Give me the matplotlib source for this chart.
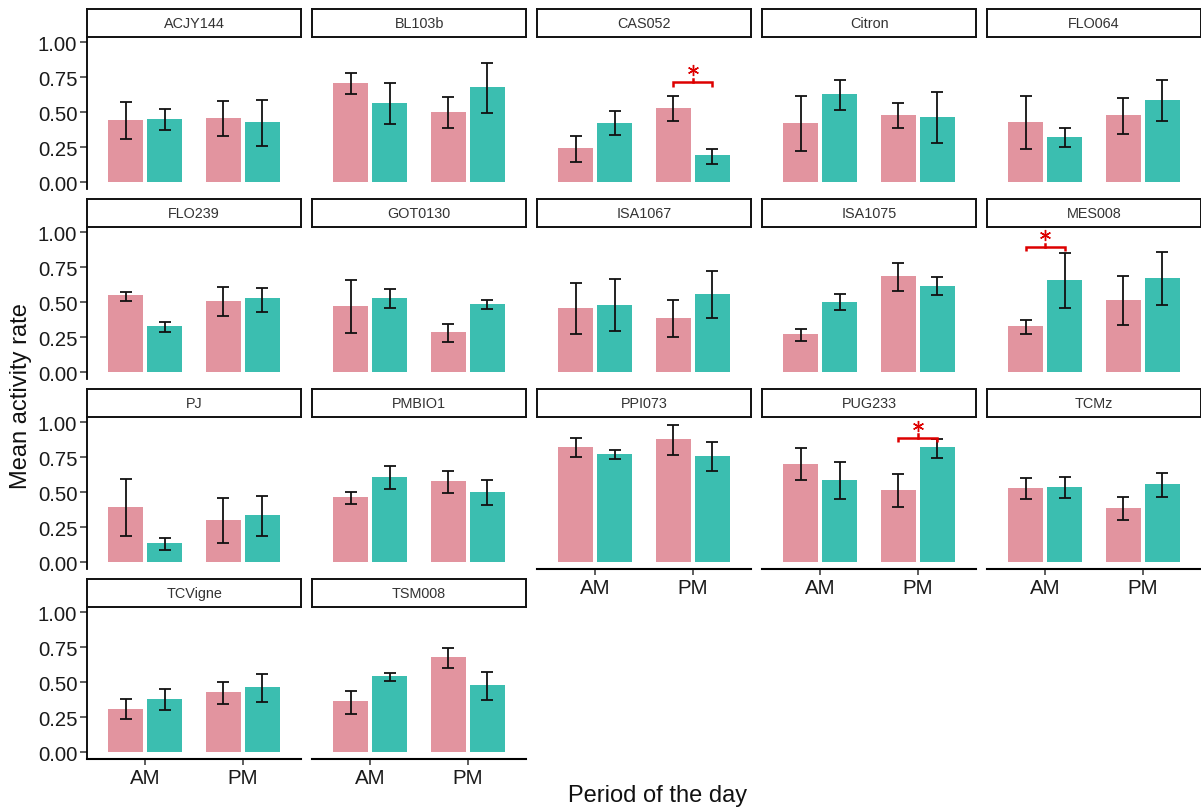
import matplotlib
matplotlib.use("Agg")
import matplotlib.pyplot as plt
import numpy as np

plt.rcParams['font.family'] = ['Liberation Sans', 'DejaVu Sans']

# ---------------- data ----------------
strains = ["ACJY144", "BL103b", "CAS052", "Citron", "FLO064",
           "FLO239", "GOT0130", "ISA1067", "ISA1075", "MES008",
           "PJ", "PMBIO1", "PPI073", "PUG233", "TCMz",
           "TCVigne", "TSM008"]
periods = ["AM", "PM"]

# (AM, PM) per strain
pink_mean = [(0.448, 0.460), (0.710, 0.502), (0.243, 0.533), (0.426, 0.483), (0.433, 0.481),
             (0.550, 0.512), (0.476, 0.286), (0.462, 0.388), (0.271, 0.688), (0.331, 0.514),
             (0.398, 0.302), (0.464, 0.583), (0.826, 0.879), (0.705, 0.517), (0.533, 0.390),
             (0.312, 0.429), (0.364, 0.679)]
pink_lo = [(0.310, 0.333), (0.631, 0.386), (0.148, 0.440), (0.226, 0.390), (0.240, 0.348),
           (0.512, 0.405), (0.283, 0.214), (0.271, 0.252), (0.221, 0.583), (0.274, 0.336),
           (0.190, 0.140), (0.419, 0.498), (0.750, 0.767), (0.588, 0.393), (0.455, 0.300),
           (0.236, 0.348), (0.276, 0.602)]
pink_hi = [(0.576, 0.581), (0.781, 0.610), (0.331, 0.617), (0.617, 0.564), (0.617, 0.605),
           (0.574, 0.610), (0.662, 0.345), (0.640, 0.517), (0.312, 0.781), (0.376, 0.686),
           (0.598, 0.460), (0.502, 0.655), (0.888, 0.981), (0.814, 0.631), (0.602, 0.469),
           (0.379, 0.505), (0.440, 0.745)]

teal_mean = [(0.452, 0.429), (0.569, 0.679), (0.424, 0.193), (0.629, 0.467), (0.326, 0.590),
             (0.329, 0.529), (0.531, 0.488), (0.483, 0.560), (0.505, 0.619), (0.662, 0.674),
             (0.136, 0.336), (0.612, 0.500), (0.776, 0.762), (0.590, 0.821), (0.540, 0.557),
             (0.383, 0.464), (0.545, 0.479)]
teal_lo = [(0.374, 0.262), (0.419, 0.493), (0.336, 0.133), (0.517, 0.283), (0.255, 0.436),
           (0.290, 0.433), (0.457, 0.452), (0.295, 0.390), (0.445, 0.550), (0.462, 0.481),
           (0.090, 0.190), (0.521, 0.407), (0.740, 0.652), (0.455, 0.745), (0.460, 0.467),
           (0.302, 0.357), (0.512, 0.371)]
teal_hi = [(0.524, 0.588), (0.707, 0.855), (0.507, 0.240), (0.733, 0.643), (0.390, 0.733),
           (0.357, 0.605), (0.598, 0.517), (0.667, 0.724), (0.557, 0.681), (0.850, 0.857),
           (0.171, 0.471), (0.688, 0.588), (0.805, 0.862), (0.714, 0.883), (0.610, 0.638),
           (0.450, 0.560), (0.569, 0.574)]

# significance: (strain, period, bracket height)
sig_strain = ["CAS052", "MES008", "PUG233"]
sig_period = ["PM", "AM", "PM"]
sig_height = [0.714, 0.893, 0.888]

yticks = [0.00, 0.25, 0.50, 0.75, 1.00]
ytick_labels = ["0.00", "0.25", "0.50", "0.75", "1.00"]

# ---------------- style ----------------
PINK = "#E2949F"
TEAL = "#3BBEB0"
RED = "#DD0000"
W, H = 1201, 812
NCOL = 5

fig = plt.figure(figsize=(W / 100, H / 100), dpi=100)


def rect(left, top, w, h):
    return [left / W, 1 - (top + h) / H, w / W, h / H]


panel_w = 214.3
panel_h = 152.0
strip_h = 28.3
x = np.arange(len(periods)) + 1.0
off = 0.2
bw = 0.36
n = len(strains)

for i, s in enumerate(strains):
    r, c = divmod(i, NCOL)
    left = 87 + 225 * c
    ptop = 38.3 + 190 * r
    ax = fig.add_axes(rect(left, ptop, panel_w, panel_h))
    ax.set_xlim(0.4, 2.6)
    ax.set_ylim(-0.05, 1.0357)

    pm = np.array(pink_mean[i]); tm = np.array(teal_mean[i])
    pl = np.array(pink_lo[i]); ph = np.array(pink_hi[i])
    tl = np.array(teal_lo[i]); th = np.array(teal_hi[i])

    ax.bar(x - off, pm, width=bw, color=PINK, edgecolor="none", zorder=2)
    ax.bar(x + off, tm, width=bw, color=TEAL, edgecolor="none", zorder=2)
    ax.errorbar(x - off, pm, yerr=[pm - pl, ph - pm], fmt="none", ecolor="#111111",
                elinewidth=1.3, capsize=4.2, capthick=1.3, zorder=3)
    ax.errorbar(x + off, tm, yerr=[tm - tl, th - tm], fmt="none", ecolor="#111111",
                elinewidth=1.3, capsize=4.2, capthick=1.3, zorder=3)

    # significance brackets
    for ss, sp, sh in zip(sig_strain, sig_period, sig_height):
        if ss == s:
            xc = x[periods.index(sp)]
            x0, x1 = xc - off, xc + off
            ax.plot([x0, x0, x1, x1], [sh - 0.03, sh, sh, sh - 0.03], color=RED,
                    lw=1.8, solid_capstyle="butt", solid_joinstyle="miter", zorder=4, clip_on=False)
            ax.plot([xc, xc], [sh, sh + 0.025], color=RED, lw=1.8, zorder=4, clip_on=False)
            ax.plot([xc], [sh + 0.085], marker=(6, 2, 0), color=RED, markersize=8,
                    markeredgewidth=1.0, zorder=4, clip_on=False)

    for sp_name in ["top", "right", "left", "bottom"]:
        ax.spines[sp_name].set_visible(False)

    # y axis only for first column
    if c == 0:
        ax.spines["left"].set_visible(True)
        ax.spines["left"].set_linewidth(1.3)
        ax.spines["left"].set_color("black")
        ax.set_yticks(yticks)
        ax.set_yticklabels(ytick_labels)
        ax.tick_params(axis="y", length=5, width=1.1, color="#333333", pad=2,
                       labelsize=14.6, labelcolor="#1a1a1a")
    else:
        ax.set_yticks([])

    # x axis for bottom-most panel in each column
    has_below = (i + NCOL) < n
    if not has_below:
        ax.spines["bottom"].set_visible(True)
        ax.spines["bottom"].set_linewidth(1.5)
        ax.spines["bottom"].set_color("black")
        ax.set_xticks(x)
        ax.set_xticklabels(periods)
        ax.tick_params(axis="x", length=4.5, width=1.1, color="#333333", pad=2,
                       labelsize=14.8, labelcolor="#1a1a1a")
    else:
        ax.set_xticks([])
    ax.set_facecolor("none")

    # strip
    sax = fig.add_axes(rect(left, 10 + 190 * r, panel_w, strip_h))
    sax.set_xticks([]); sax.set_yticks([])
    for sp_name in sax.spines.values():
        sp_name.set_linewidth(1.4)
        sp_name.set_color("#111111")
    sax.text(0.5, 0.5, s, ha="center", va="center", fontsize=10.4, color="#333333",
             transform=sax.transAxes)

fig.text(658 / W, 1 - 796 / H, "Period of the day", ha="center", va="center",
         fontsize=17, color="#111111")
fig.text(21 / W, 1 - 396 / H, "Mean activity rate", ha="center", va="center",
         rotation=90, fontsize=17, color="#111111")

fig.savefig("out.png", dpi=100)
